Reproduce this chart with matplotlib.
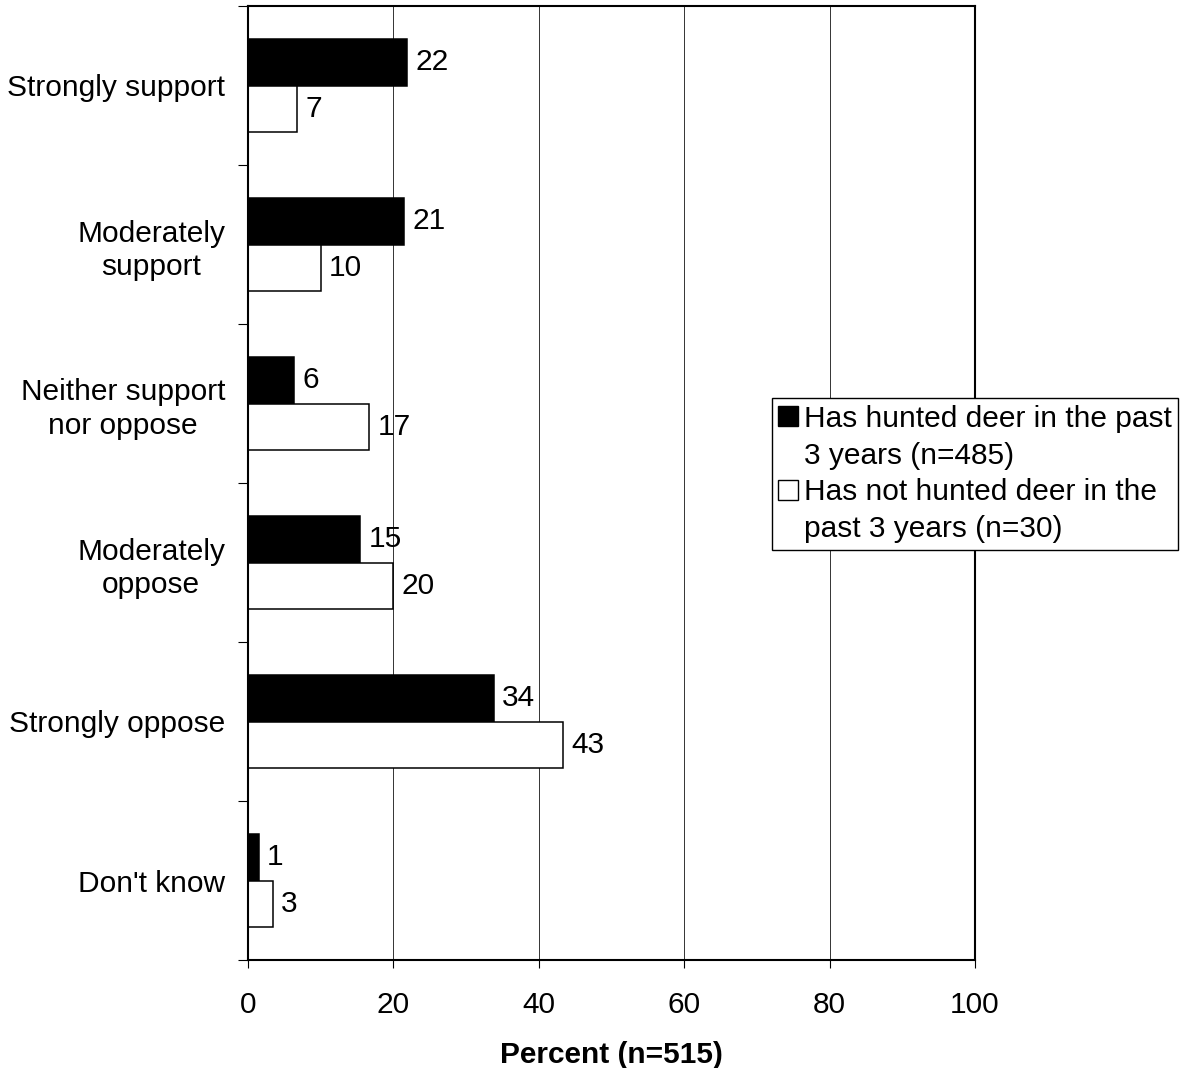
import matplotlib
matplotlib.use('Agg')
import matplotlib.pyplot as plt
import numpy as np
from matplotlib.patches import Patch

categories = ["Strongly support", "Moderately\nsupport", "Neither support\nnor oppose",
              "Moderately\noppose", "Strongly oppose", "Don't know"]
hunted = [21.9, 21.5, 6.3, 15.4, 33.8, 1.5]
not_hunted = [6.8, 10.0, 16.7, 20.0, 43.3, 3.4]
hunted_labels = ["22", "21", "6", "15", "34", "1"]
not_hunted_labels = ["7", "10", "17", "20", "43", "3"]
x_ticks = [0, 20, 40, 60, 80, 100]
series1_lines = ["Has hunted deer in the past", "3 years (n=485)"]
series2_lines = ["Has not hunted deer in the", "past 3 years (n=30)"]
xlabel = "Percent (n=515)"

plt.rcParams['font.family'] = ['Liberation Sans', 'DejaVu Sans']
FS = 21.5

W, H = 1182, 1068
fig = plt.figure(figsize=(W / 100, H / 100), dpi=100)
ax = fig.add_axes([248 / W, 1 - 960 / H, (975 - 248) / W, (960 - 6) / H])

n = len(categories)
y = np.arange(n)
h = 0.292
b1 = ax.barh(y - h / 2, hunted, height=h, color='black', edgecolor='black',
             linewidth=1.1, zorder=3)
b2 = ax.barh(y + h / 2, not_hunted, height=h, color='white', edgecolor='black',
             linewidth=1.1, zorder=3)
ax.bar_label(b1, labels=hunted_labels, padding=6, fontsize=FS, zorder=4)
ax.bar_label(b2, labels=not_hunted_labels, padding=6, fontsize=FS, zorder=4)

ax.set_xlim(0, 100)
ax.set_ylim(n - 0.5, -0.5)
ax.set_xticks(x_ticks)
ax.set_xticklabels([str(t) for t in x_ticks], fontsize=FS)
ax.set_yticks(y)
ax.set_yticklabels(categories, fontsize=FS, multialignment='center', linespacing=1.25)
ax.set_yticks(np.arange(-0.5, n, 1.0), minor=True)
ax.tick_params(axis='y', which='major', length=0, pad=16.5)
ax.tick_params(axis='y', which='minor', length=7, width=0.8, direction='out')
ax.tick_params(axis='x', which='major', length=6, width=0.8, direction='out', pad=16)
ax.grid(axis='x', color='#333333', linewidth=0.7, zorder=0)
ax.set_axisbelow(True)
for s in ax.spines.values():
    s.set_linewidth(1.5)
    s.set_zorder(5)
ax.set_xlabel(xlabel, fontsize=FS, fontweight='bold', labelpad=16)

handles = [Patch(facecolor='black', edgecolor='black'),
           Patch(facecolor='none', edgecolor='none'),
           Patch(facecolor='white', edgecolor='black', linewidth=1.0),
           Patch(facecolor='none', edgecolor='none')]
labels = [series1_lines[0], series1_lines[1], series2_lines[0], series2_lines[1]]
leg = fig.legend(handles, labels, loc='upper left',
                 bbox_to_anchor=(771.7 / W, 1 - 398 / H), borderaxespad=0,
                 fontsize=FS, handlelength=0.65, handleheight=0.65,
                 handletextpad=0.2, labelspacing=0.3, borderpad=0.22,
                 fancybox=False, framealpha=1, edgecolor='black')
leg.get_frame().set_linewidth(1.0)

fig.savefig('out.png', dpi=100)
